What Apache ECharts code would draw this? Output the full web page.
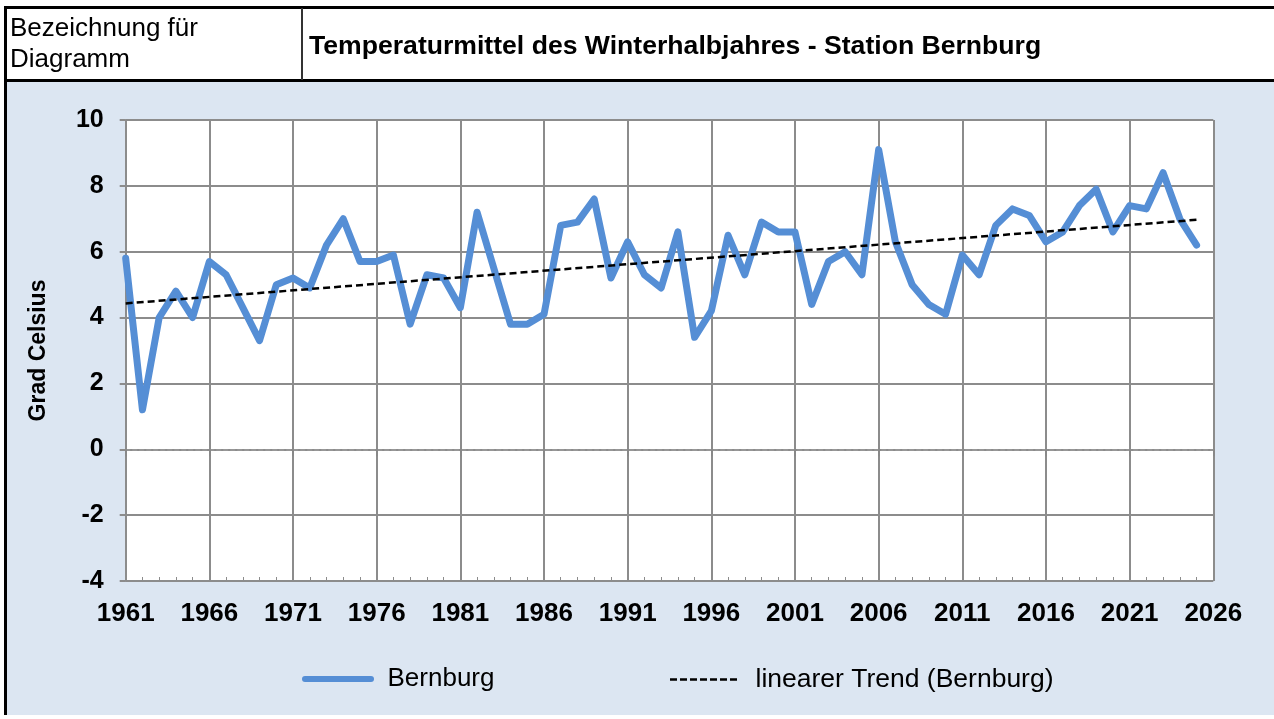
<!DOCTYPE html>
<html>
<head>
<meta charset="utf-8">
<script src="https://cdn.jsdelivr.net/npm/echarts@6/dist/echarts.min.js"></script>
<style>
  html, body { margin: 0; padding: 0; background: #fff; }
  #chart { width: 1274px; height: 719px; }
</style>
</head>
<body>
<div id="chart"></div>
<script>
// Temperaturmittel Winterhalbjahr Bernburg, 1961..2025
const firstYear = 1961;
const bernburg = [
  5.8, 1.2, 4.0, 4.8, 4.0, 5.7, 5.3, 4.3, 3.3, 5.0,   // 1961-1970
  5.2, 4.9, 6.2, 7.0, 5.7, 5.7, 5.9, 3.8, 5.3, 5.2,   // 1971-1980
  4.3, 7.2, 5.5, 3.8, 3.8, 4.1, 6.8, 6.9, 7.6, 5.2,   // 1981-1990
  6.3, 5.3, 4.9, 6.6, 3.4, 4.2, 6.5, 5.3, 6.9, 6.6,   // 1991-2000
  6.6, 4.4, 5.7, 6.0, 5.3, 9.1, 6.3, 5.0, 4.4, 4.1,   // 2001-2010
  5.9, 5.3, 6.8, 7.3, 7.1, 6.3, 6.6, 7.4, 7.9, 6.6,   // 2011-2020
  7.4, 7.3, 8.4, 7.0, 6.2                             // 2021-2025
];
// Trendlinie (Endpunkte)
const trendYears = [1961, 2025];
const trendValues = [4.43, 6.97];
// Achsen
const yTicks = [-4, -2, 0, 2, 4, 6, 8, 10];
const lastYear = 2026;

const font = "'Liberation Sans', Arial, sans-serif";
const blue = '#558ed5';

const lineData = bernburg.map((v, i) => [i, v]);
const trendData = trendYears.map((y, i) => [y - firstYear, trendValues[i]]);

// Legendensymbole: durchgehende Linie bzw. 7 Striche
const solidIcon = 'path://M3,0 H69 A3,3 0 0 1 69,6 H3 A3,3 0 0 1 3,0 Z';
let dashIcon = 'path://';
for (let i = 0; i < 7; i++) dashIcon += 'M' + (i * 10) + ',0 h7 v2.5 h-7 Z ';

const chart = echarts.init(document.getElementById('chart'));
chart.setOption({
  backgroundColor: '#ffffff',
  animation: false,
  textStyle: { fontFamily: font },
  graphic: [
    // blauer Hintergrund
    { type: 'rect', z: -10, shape: { x: 6, y: 82, width: 1268, height: 633 }, style: { fill: '#dce6f2' } },
    // Kopfzeile
    { type: 'rect', z: 5, shape: { x: 4, y: 6, width: 1270, height: 3 }, style: { fill: '#000' } },
    { type: 'rect', z: 5, shape: { x: 4, y: 79, width: 1270, height: 3 }, style: { fill: '#000' } },
    { type: 'rect', z: 5, shape: { x: 4, y: 6, width: 3, height: 709 }, style: { fill: '#000' } },
    { type: 'rect', z: 5, shape: { x: 301, y: 8, width: 2, height: 72 }, style: { fill: '#333' } },
    {
      type: 'text', z: 5, left: 10, top: 13,
      style: { text: 'Bezeichnung für\nDiagramm', font: '26px ' + font, fill: '#000', lineHeight: 31 }
    },
    {
      type: 'text', z: 5, left: 309, top: 33,
      style: { text: 'Temperaturmittel des Winterhalbjahres - Station Bernburg', font: 'bold 26.6px ' + font, fill: '#000' }
    }
  ],
  grid: {
    left: 125.7, right: 60.7, top: 120, bottom: 138,
    show: true, backgroundColor: '#ffffff', borderWidth: 0
  },
  legend: [
    {
      data: [{ name: 'Bernburg', icon: solidIcon }], left: 297, top: 661,
      itemWidth: 73, itemHeight: 6, itemGap: 18,
      textStyle: { fontSize: 26, color: '#000', fontFamily: font, padding: [0, 0, 0, 8] }
    },
    {
      data: [{ name: 'linearer Trend (Bernburg)', icon: dashIcon }], left: 665, top: 661,
      itemWidth: 70, itemHeight: 2.5,
      textStyle: { fontSize: 26.5, color: '#000', fontFamily: font, padding: [0, 0, 0, 12] }
    }
  ],
  xAxis: [
    {
      type: 'value', min: 0, max: lastYear - firstYear, interval: 5,
      axisLine: { show: true, lineStyle: { color: '#9a9a9a', width: 1.5, type: [4, 3] } },
      axisTick: { show: true, length: 7, lineStyle: { color: '#888', width: 2 } },
      splitLine: { show: true, lineStyle: { color: '#8c8c8c', width: 2 } },
      axisLabel: {
        margin: 20, fontSize: 26, fontWeight: 'bold', color: '#000', fontFamily: font,
        formatter: v => String(v + firstYear)
      }
    },
    {
      type: 'value', position: 'bottom', min: 0, max: lastYear - firstYear, interval: 5,
      axisLine: { show: false },
      axisTick: { show: true, inside: true, length: 0, lineStyle: { color: '#8c8c8c', width: 0 } },
      minorTick: { show: true, splitNumber: 5, length: 4, lineStyle: { color: '#8c8c8c', width: 1 } },
      splitLine: { show: false },
      axisLabel: { show: false }
    }
  ],
  yAxis: {
    type: 'value', min: yTicks[0], max: yTicks[yTicks.length - 1], interval: 2,
    name: 'Grad Celsius', nameLocation: 'middle', nameGap: 76, nameRotate: 90,
    nameTextStyle: { fontSize: 23, fontWeight: 'bold', color: '#000', fontFamily: font },
    axisLine: { show: true, lineStyle: { color: '#8c8c8c', width: 2 } },
    axisTick: { show: true, length: 6, lineStyle: { color: '#8c8c8c', width: 2 } },
    splitLine: { show: true, lineStyle: { color: '#8c8c8c', width: 2 } },
    axisLabel: { margin: 22, fontSize: 25, fontWeight: 'bold', color: '#000', fontFamily: font }
  },
  series: [
    {
      name: 'Bernburg', type: 'line', data: lineData, symbol: 'none', z: 3,
      lineStyle: { color: blue, width: 7, cap: 'round', join: 'round' },
      itemStyle: { color: blue }
    },
    {
      name: 'linearer Trend (Bernburg)', type: 'line', data: trendData, symbol: 'none', z: 4,
      lineStyle: { color: '#000', width: 2.5, type: [7, 4] },
      itemStyle: { color: '#000' }
    }
  ]
});
</script>
</body>
</html>
